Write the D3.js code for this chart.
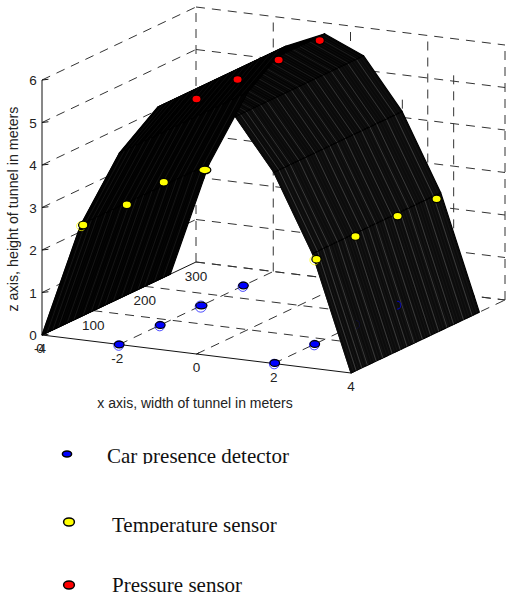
<!DOCTYPE html>
<html>
<head>
<meta charset="utf-8">
<script src="https://cdn.jsdelivr.net/npm/d3@7"></script>
<style>
  html, body { margin: 0; padding: 0; background: #fff; }
  text { font-family: "Liberation Sans", Arial, sans-serif; fill: #222; }
  .legend text { font-family: "Liberation Serif", "Times New Roman", serif; font-size: 21px; fill: #111; }
</style>
</head>
<body>
<div id="chart"></div>
<script>
const xTicks = [-4, -2, 0, 2, 4];
const yTicks = [0, 100, 200, 300];
const zTicks = [0, 1, 2, 3, 4, 5, 6];

// tunnel cross section
const tunnelX = [-4, -3, -2, -1, 0, 1, 2, 3, 4];
const tunnelZ = [0, 2.7, 4.5, 5.7, 6.1, 5.7, 4.5, 2.7, 0];
const tunnelLength = 250;

// y stations where the dense mesh shows as lighter streaks
const streakY = [10, 21, 32, 49, 62, 80, 96, 109, 123, 139, 155, 171, 187, 200, 219, 236];

const carX = [-2, -2, -2, -2, 2, 2];
const carY = [0, 80, 160, 242, 2, 80];
const carZ = [0, 0, 0, 0, 0, 0];

const hiddenCarX = [2, 2];
const hiddenCarY = [160, 240];

const tempX = [-3, -3, -3, -3, 3, 3, 3, 3];
const tempY = [5, 90, 162, 242, 8, 84, 166, 242];
const tempZ = [2.67, 2.66, 2.78, 2.61, 2.52, 2.62, 2.63, 2.6];

const pressX = [0, 0, 0, 0];
const pressY = [0, 80, 160, 240];
const pressZ = [6, 6, 6, 6];

const legendLabels = ["Car presence detector", "Temperature sensor", "Pressure sensor"];
const legendColors = ["#0000ff", "#ffff00", "#ff0000"];

const svg = d3.select("#chart").append("svg")
    .attr("width", 506)
    .attr("height", 597)
    .style("display", "block");

// oblique projection of the matlab axes box
const xToPx = d3.scaleLinear().domain([-4, 4]).range([0, 309]);
const xToPy = d3.scaleLinear().domain([-4, 4]).range([0, 38]);
const yToPx = d3.scaleLinear().domain([0, 300]).range([0, 154]);
const yToPy = d3.scaleLinear().domain([0, 300]).range([0, -73]);
const zToPy = d3.scaleLinear().domain([0, 6]).range([0, -255]);

function project(x, y, z) {
    return [42 + xToPx(x) + yToPx(y), 335 + xToPy(x) + yToPy(y) + zToPy(z)];
}

const line3d = d3.line();

function seg(a, b, cls) {
    return svg.append("path")
        .attr("d", line3d([project(...a), project(...b)]))
        .attr("fill", "none")
        .attr("stroke", cls === "solid" ? "#111" : "#333")
        .attr("stroke-width", 1)
        .attr("stroke-dasharray", cls === "solid" ? null : "9,7");
}

// grid on the walls and on the floor
zTicks.forEach(z => {
    if (z > 0) seg([-4, 0, z], [-4, 300, z], "dash");
    seg([-4, 300, z], [4, 300, z], "dash");
});
xTicks.forEach(x => {
    seg([x, 300, 0], [x, 300, 6], "dash");
    if (x > -4) seg([x, 0, 0], [x, 300, 0], "dash");
});
yTicks.slice(1).forEach(y => seg([-4, y, 0], [4, y, 0], "dash"));
[100, 200].forEach(y => seg([4, y, 0], [4, y, 6], "dash"));

// solid axes
seg([-4, 0, 0], [4, 0, 0], "solid");
seg([-4, 0, 0], [-4, 0, 6], "solid");
seg([-4, 0, 0], [-4, 300, 0], "solid");
zTicks.forEach(z => seg([-4, 0, z], [-3.9, 5, z], "solid"));
xTicks.forEach(x => seg([x, 0, 0], [x, 5, 0], "solid"));

function marker(g, x, y, z, color, rx, ry, ring) {
    const p = project(x, y, z);
    // thin original matlab ring, the pasted dot sits slightly off it
    if (ring) {
        g.append("circle")
            .attr("cx", p[0] - ring).attr("cy", p[1] + 1).attr("r", rx)
            .attr("fill", "none")
            .attr("stroke", color)
            .attr("stroke-width", 0.7);
    }
    g.append("ellipse")
        .attr("cx", p[0]).attr("cy", p[1])
        .attr("rx", rx).attr("ry", ry)
        .attr("fill", color)
        .attr("stroke", "#000")
        .attr("stroke-width", 1.2);
}

const floorMarks = svg.append("g");
carX.forEach((x, i) => marker(floorMarks, x, carY[i], carZ[i], "#0000ff", i === 2 ? 5.6 : 4.8, 3.4, 0.6));

// surface, painted far to near so the left wall hides the right one
const surface = svg.append("g");
const meshY = d3.range(0, tunnelLength, 5);
const bandShade = ["#050505", "#040404", "#020202", "#000", "#040404", "#0a0a0a", "#0c0c0c", "#0c0c0c"];
const streakShade = ["#161616", "#121212", "#0c0c0c", "#000", "#1c1c1c", "#343434", "#3a3a3a", "#3a3a3a"];
const meshShade = ["#000", "#000", "#000", "#000", "#101010", "#141414", "#161616", "#181818"];
for (let k = tunnelX.length - 2; k >= 0; k--) {
    const quad = [
        project(tunnelX[k], 0, tunnelZ[k]),
        project(tunnelX[k + 1], 0, tunnelZ[k + 1]),
        project(tunnelX[k + 1], tunnelLength, tunnelZ[k + 1]),
        project(tunnelX[k], tunnelLength, tunnelZ[k])
    ];
    surface.append("path")
        .attr("d", line3d(quad) + "Z")
        .attr("fill", bandShade[k])
        .attr("stroke", "#000")
        .attr("stroke-width", 1.2)
        .attr("stroke-linejoin", "round");
    surface.selectAll(null)
        .data(meshY)
        .join("path")
        .attr("d", y => line3d([project(tunnelX[k], y, tunnelZ[k]), project(tunnelX[k + 1], y, tunnelZ[k + 1])]))
        .attr("stroke", meshShade[k])
        .attr("stroke-width", 0.7);
    surface.selectAll(null)
        .data(streakY)
        .join("path")
        .attr("d", y => line3d([project(tunnelX[k], y, tunnelZ[k]), project(tunnelX[k + 1], y, tunnelZ[k + 1])]))
        .attr("stroke", streakShade[k])
        .attr("stroke-width", 1);
    surface.append("path")
        .attr("d", line3d([project(tunnelX[k], 0, tunnelZ[k]), project(tunnelX[k], tunnelLength, tunnelZ[k])]))
        .attr("stroke", "#000")
        .attr("stroke-width", 1);
}

// car detectors behind the right wall only show as a thin arc
hiddenCarX.forEach((x, i) => {
    const p = project(x, hiddenCarY[i], 0);
    const arc = d3.arc().innerRadius(3.6).outerRadius(4.3).startAngle(0).endAngle(Math.PI);
    svg.append("path")
        .attr("transform", `translate(${p[0]},${p[1]})`)
        .attr("d", arc())
        .attr("fill", "#0000ff")
        .attr("opacity", i === 0 ? 0.2 : 0.9);
});

const topMarks = svg.append("g");
tempX.forEach((x, i) => marker(topMarks, x, tempY[i], tempZ[i], "#ffff00", i === 3 ? 6 : 4.6, 3.8, i === 0 || i === 4 ? 2 : 0));
pressX.forEach((x, i) => marker(topMarks, x, pressY[i], pressZ[i], "#ff0000", 4.6, 3.9, 0));

// tick labels
function label(t, px, py) {
    svg.append("text").attr("x", px).attr("y", py)
        .attr("text-anchor", "middle")
        .attr("font-size", 13.5)
        .text(t);
}
const zLabelPx = project(-4, 0, 0)[0] - 9;
zTicks.forEach(z => label(z, zLabelPx, project(-4, 0, z)[1] + 5));
xTicks.forEach(x => {
    const p = project(x, 0, 0);
    label(x, p[0] - (x < 0 ? 2 : 0), p[1] + 18);
});
yTicks.forEach(y => {
    const p = project(-4, y, 0);
    label(y, p[0] - (y === 0 ? 2 : 0), p[1] + (y === 0 ? 18 : 19));
});

svg.append("text")
    .attr("x", 195).attr("y", 408)
    .attr("text-anchor", "middle")
    .attr("font-size", 14)
    .text("x axis, width of tunnel in meters");
svg.append("text")
    .attr("transform", "translate(18,209) rotate(-90)")
    .attr("text-anchor", "middle")
    .attr("font-size", 14.3)
    .text("z axis, height of tunnel in meters");

// legend pasted under the figure, its text is cut at the bottom like in the scan
const legendPos = [
    { mx: 67, my: 454, rx: 4.6, ry: 3, tx: 107, ty: 463, clip: 464 },
    { mx: 69, my: 522, rx: 5.4, ry: 4, tx: 112, ty: 532, clip: 533 },
    { mx: 69, my: 585, rx: 5.4, ry: 4, tx: 112, ty: 592, clip: 597 }
];
const legend = svg.append("g").attr("class", "legend");
legendLabels.forEach((name, i) => {
    const p = legendPos[i];
    legend.append("clipPath").attr("id", "leg" + i)
        .append("rect").attr("x", 0).attr("y", p.clip - 40).attr("width", 506).attr("height", 40);
    legend.append("ellipse")
        .attr("cx", p.mx).attr("cy", p.my).attr("rx", p.rx).attr("ry", p.ry)
        .attr("fill", legendColors[i]).attr("stroke", "#000").attr("stroke-width", 1.5);
    legend.append("text")
        .attr("x", p.tx).attr("y", p.ty)
        .attr("clip-path", `url(#leg${i})`)
        .text(name);
});
</script>
</body>
</html>
